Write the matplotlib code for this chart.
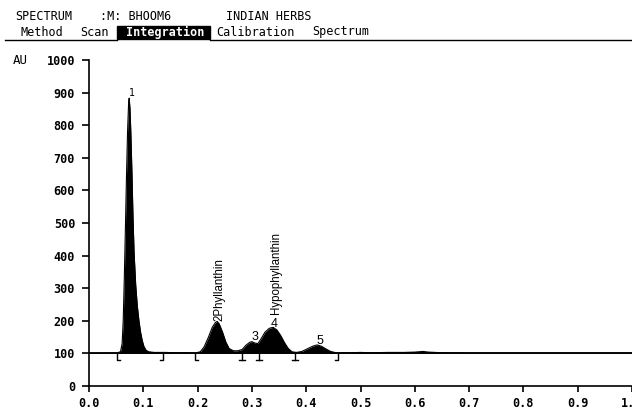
import matplotlib.pyplot as plt
from matplotlib.lines import Line2D
from matplotlib.patches import Rectangle

# ---- Data ----
trace_x = [0.000, 0.050, 0.058, 0.061, 0.063, 0.065, 0.067, 0.069, 0.071, 0.073,
           0.074, 0.0755, 0.077, 0.079, 0.081, 0.083, 0.086, 0.089, 0.092, 0.095,
           0.098, 0.101, 0.105, 0.110, 0.120, 0.140, 0.160, 0.180, 0.195, 0.205,
           0.212, 0.220, 0.227, 0.233, 0.236, 0.240, 0.246, 0.252, 0.258, 0.266,
           0.274, 0.282, 0.289, 0.296, 0.300, 0.305, 0.311, 0.317, 0.324, 0.332,
           0.339, 0.346, 0.353, 0.360, 0.367, 0.374, 0.382, 0.392, 0.402, 0.412,
           0.420, 0.428, 0.436, 0.445, 0.455, 0.480, 0.500, 0.520, 0.550, 0.580,
           0.600, 0.615, 0.625, 0.650, 0.700, 1.000]
trace_y = [100, 101, 105, 130, 200, 330, 480, 640, 780, 870,
           883, 850, 780, 660, 520, 410, 310, 245, 200, 165,
           140, 122, 110, 105, 103, 103, 102, 102, 101, 105,
           120, 150, 180, 195, 198, 190, 165, 135, 115, 108,
           108, 112, 125, 134, 136, 132, 130, 145, 165, 177,
           180, 172, 155, 133, 115, 105, 103, 106, 114, 122,
           126, 122, 114, 106, 102, 102, 103, 102, 103, 103,
           104, 106, 104, 102, 101, 101]
baseline = 100

start_marks = [0.052, 0.195]
valley_marks = [0.282, 0.313, 0.379]
end_marks = [0.136, 0.459]

y_ticks = [0, 100, 200, 300, 400, 500, 600, 700, 800, 900, 1000]
y_labels = ["0", "100", "200", "300", "400", "500", "600", "700", "800", "900", "1000"]
x_ticks = [0.0, 0.1, 0.2, 0.3, 0.4, 0.5, 0.6, 0.7, 0.8, 0.9, 1.0]
x_labels = ["0.0", "0.1", "0.2", "0.3", "0.4", "0.5", "0.6", "0.7", "0.8", "0.9", "1.0"]

MONO = "DejaVu Sans Mono"
SANS = "Liberation Sans"

# ---- Figure ----
fig = plt.figure(figsize=(6.32, 4.12), dpi=100)
W, H = 632, 412
ax = fig.add_axes([89 / W, 1 - 386 / H, (632 - 89) / W, (386 - 60) / H])

ax.fill_between(trace_x, baseline, trace_y, color="black", linewidth=0)
ax.plot(trace_x, trace_y, color="black", linewidth=0.8)
ax.axhline(baseline, color="black", linewidth=1.3)

# integration markers under the baseline
mh, mw = 20, 0.006
for xm in start_marks:
    ax.plot([xm, xm, xm + mw], [baseline, baseline - mh, baseline - mh], color="black", lw=1)
for xm in end_marks:
    ax.plot([xm - mw, xm, xm], [baseline - mh, baseline - mh, baseline], color="black", lw=1)
for xm in valley_marks:
    ax.plot([xm, xm], [baseline, baseline - mh], color="black", lw=1)
    ax.plot([xm - mw, xm + mw], [baseline - mh, baseline - mh], color="black", lw=1)

# peak labels
ax.text(0.078, 899, "1", fontsize=7, family=MONO, ha="center", va="center")
ax.text(0.240, 198, "2Phyllanthin", fontsize=8.3, family=SANS, rotation=90,
        ha="center", va="bottom")
ax.text(0.306, 150, "3", fontsize=9, family=SANS, ha="center", va="center")
ax.text(0.341, 190, "4", fontsize=9, family=SANS, ha="center", va="center")
ax.text(0.344, 222, "Hypophyllanthin", fontsize=8.3, family=SANS, rotation=90,
        ha="center", va="bottom")
ax.text(0.425, 138, "5", fontsize=9, family=SANS, ha="center", va="center")

ax.set_xlim(0, 1.0)
ax.set_ylim(0, 1000)
ax.set_yticks(y_ticks)
ax.set_yticklabels(y_labels, family=MONO, fontweight="bold", fontsize=8.5)
ax.set_xticks(x_ticks)
ax.set_xticklabels(x_labels, family=MONO, fontweight="bold", fontsize=8.5)
ax.tick_params(axis="y", direction="out", length=5, width=1.2, pad=5)
ax.tick_params(axis="x", direction="out", length=4, width=1.2, pad=4)
for s in ["top", "right"]:
    ax.spines[s].set_visible(False)
for s in ["left", "bottom"]:
    ax.spines[s].set_linewidth(1.2)

# ---- Header / menu bar ----
hy = 1 - 17 / H
fig.text(15 / W, hy, "SPECTRUM", family=MONO, fontsize=8.5, va="center")
fig.text(100 / W, hy, ":M: BHOOM6", family=MONO, fontsize=8.5, va="center")
fig.text(226 / W, hy, "INDIAN HERBS", family=MONO, fontsize=8.5, va="center")

my = 1 - 32 / H
fig.text(21 / W, my, "Method", family=MONO, fontsize=8.5, va="center")
fig.text(80 / W, my, "Scan", family=MONO, fontsize=8.5, va="center")
fig.patches.append(Rectangle((117 / W, 1 - 39 / H), 93 / W, 13 / H,
                             transform=fig.transFigure, color="black"))
fig.text(126 / W, my, "Integration", family=MONO, fontsize=8.5, va="center",
         color="white", fontweight="bold")
fig.text(216 / W, my, "Calibration", family=MONO, fontsize=8.5, va="center")
fig.text(312 / W, my, "Spectrum", family=MONO, fontsize=8.5, va="center")
ly = 1 - 39.5 / H
fig.add_artist(Line2D([5 / W, 117 / W], [ly, ly], color="black", lw=1))
fig.add_artist(Line2D([210 / W, 1], [ly, ly], color="black", lw=1))

fig.text(13 / W, 1 - 60 / H, "AU", family=MONO, fontsize=9, va="center")

plt.savefig("out.png", dpi=100)
